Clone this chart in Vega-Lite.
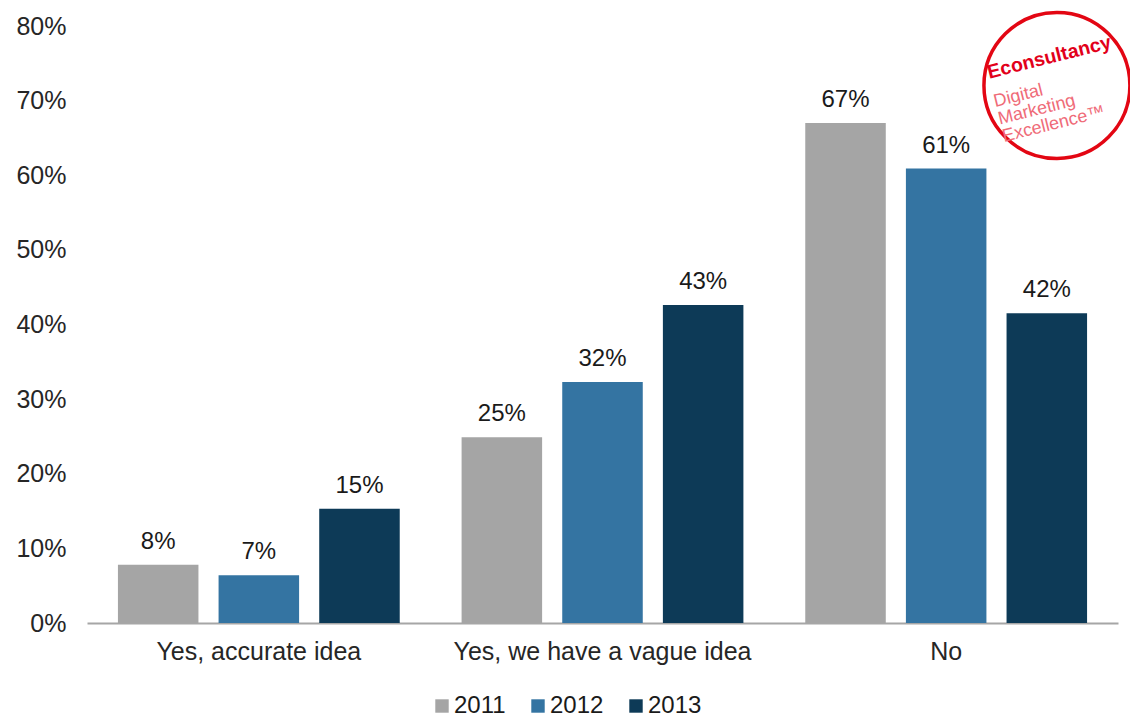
{
  "$schema": "https://vega.github.io/schema/vega-lite/v6.json",
  "width": 1031,
  "height": 597,
  "autosize": {"type": "none"},
  "padding": {"left": 87, "top": 26, "right": 12, "bottom": 97},
  "background": "white",
  "config": {"view": {"stroke": null}, "font": "Liberation Sans"},
  "datasets": {
    "survey": [
      {"answer": "Yes, accurate idea", "year": "2011", "value": 0.078, "label": "8%"},
      {"answer": "Yes, accurate idea", "year": "2012", "value": 0.064, "label": "7%"},
      {"answer": "Yes, accurate idea", "year": "2013", "value": 0.153, "label": "15%"},
      {"answer": "Yes, we have a vague idea", "year": "2011", "value": 0.249, "label": "25%"},
      {"answer": "Yes, we have a vague idea", "year": "2012", "value": 0.323, "label": "32%"},
      {"answer": "Yes, we have a vague idea", "year": "2013", "value": 0.426, "label": "43%"},
      {"answer": "No", "year": "2011", "value": 0.670, "label": "67%"},
      {"answer": "No", "year": "2012", "value": 0.609, "label": "61%"},
      {"answer": "No", "year": "2013", "value": 0.415, "label": "42%"}
    ],
    "logo": [
      {"answer": "No", "pos": 0.7203, "brand": "Econsultancy", "tagline": "Digital\nMarketing\nExcellence™"}
    ]
  },
  "layer": [
    {
      "data": {"name": "survey"},
      "mark": {"type": "bar"},
      "encoding": {
        "x": {
          "field": "answer",
          "type": "nominal",
          "sort": ["Yes, accurate idea", "Yes, we have a vague idea", "No"],
          "scale": {"domain": ["Yes, accurate idea", "Yes, we have a vague idea", "No"], "paddingInner": 0.18, "paddingOuter": 0.09},
          "title": null,
          "axis": {
            "domain": true,
            "domainColor": "#A6A6A6",
            "domainWidth": 2,
            "ticks": false,
            "grid": false,
            "labelAngle": 0,
            "labelFontSize": 25,
            "labelLimit": 500,
            "labelColor": "#262626",
            "labelPadding": 16
          }
        },
        "xOffset": {
          "field": "year",
          "type": "nominal",
          "sort": ["2011", "2012", "2013"],
          "scale": {"paddingInner": 0.2, "paddingOuter": 0}
        },
        "y": {
          "field": "value",
          "type": "quantitative",
          "scale": {"domain": [0, 0.8], "nice": false},
          "title": null,
          "axis": {
            "format": ".0%",
            "values": [0, 0.1, 0.2, 0.3, 0.4, 0.5, 0.6, 0.7, 0.8],
            "domain": false,
            "ticks": false,
            "grid": false,
            "labelFontSize": 25,
            "labelColor": "#262626",
            "labelPadding": 21
          }
        },
        "color": {
          "field": "year",
          "type": "nominal",
          "scale": {"domain": ["2011", "2012", "2013"], "range": ["#A5A5A5", "#3474A2", "#0D3A57"]},
          "legend": {
            "title": null,
            "orient": "none",
            "direction": "horizontal",
            "legendX": 343,
            "legendY": 668,
            "padding": 0,
            "symbolType": "square",
            "symbolSize": 180,
            "symbolStrokeWidth": 0,
            "labelFontSize": 24,
            "labelColor": "#1A1A1A",
            "labelOffset": 0,
            "columnPadding": 20
          }
        }
      }
    },
    {
      "data": {"name": "survey"},
      "mark": {"type": "text", "baseline": "alphabetic", "dy": -16, "fontSize": 24, "color": "#1A1A1A"},
      "encoding": {
        "x": {"field": "answer", "type": "nominal", "sort": ["Yes, accurate idea", "Yes, we have a vague idea", "No"]},
        "xOffset": {"field": "year", "type": "nominal", "sort": ["2011", "2012", "2013"]},
        "y": {"field": "value", "type": "quantitative"},
        "text": {"field": "label", "type": "nominal"}
      }
    },
    {
      "data": {"name": "logo"},
      "mark": {"type": "point", "shape": "circle", "filled": false, "stroke": "#E30613", "strokeWidth": 3.5, "size": 21300, "opacity": 1},
      "encoding": {
        "x": {"field": "answer", "type": "nominal", "sort": ["Yes, accurate idea", "Yes, we have a vague idea", "No"], "bandPosition": 0.893},
        "y": {"field": "pos", "type": "quantitative"}
      }
    },
    {
      "data": {"name": "logo"},
      "mark": {"type": "text", "align": "left", "baseline": "middle", "angle": 346, "dx": -64, "dy": -29, "fontSize": 19.5, "fontWeight": "bold", "color": "#E2001A"},
      "encoding": {
        "x": {"field": "answer", "type": "nominal", "sort": ["Yes, accurate idea", "Yes, we have a vague idea", "No"], "bandPosition": 0.893},
        "y": {"field": "pos", "type": "quantitative"},
        "text": {"field": "brand", "type": "nominal"}
      }
    },
    {
      "data": {"name": "logo"},
      "mark": {"type": "text", "align": "left", "baseline": "middle", "angle": 346, "dx": -65, "dy": 1, "fontSize": 18, "lineHeight": 18, "lineBreak": "\n", "color": "#EF6B78"},
      "encoding": {
        "x": {"field": "answer", "type": "nominal", "sort": ["Yes, accurate idea", "Yes, we have a vague idea", "No"], "bandPosition": 0.893},
        "y": {"field": "pos", "type": "quantitative"},
        "text": {"field": "tagline", "type": "nominal"}
      }
    }
  ]
}
